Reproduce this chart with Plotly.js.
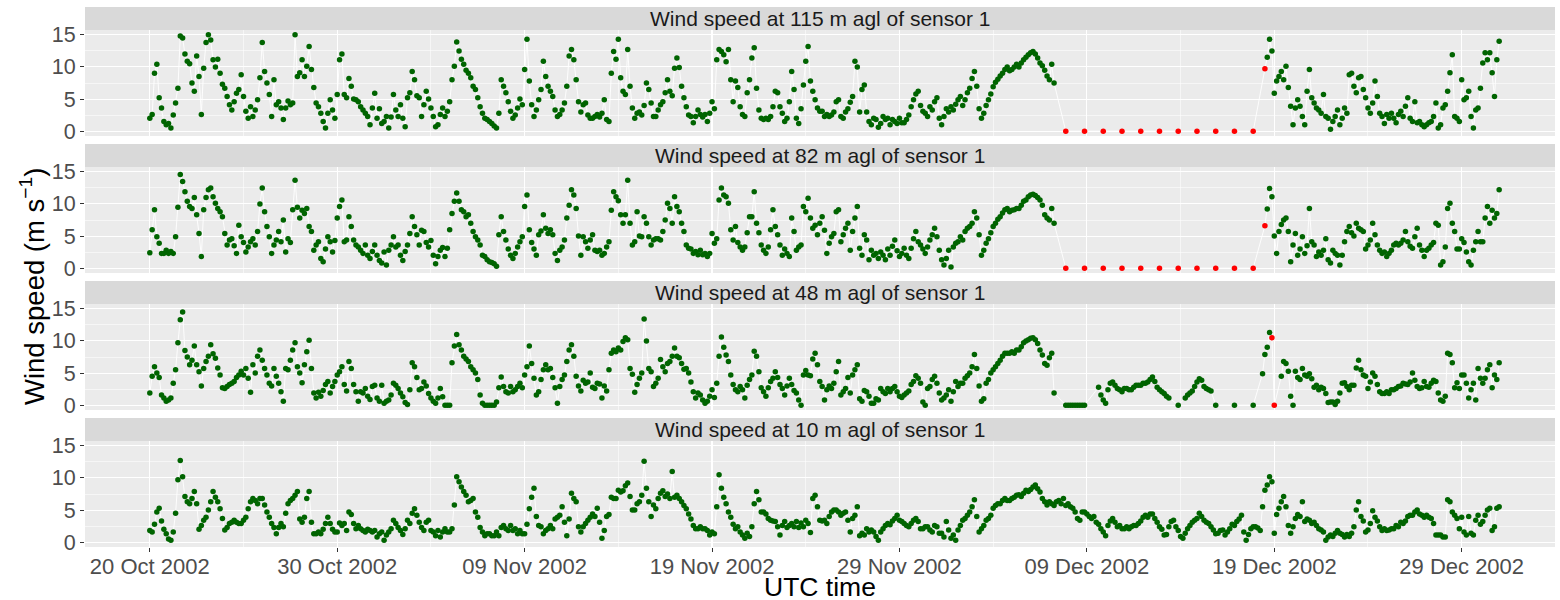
<!DOCTYPE html>
<html><head><meta charset="utf-8">
<script src="https://cdn.plot.ly/plotly-3.0.1.min.js"></script>
<style>html,body{margin:0;padding:0;background:#fff;}#chart{width:1560px;height:600px;}</style>
</head><body><div id="chart"></div>
<script>
// ---- data: 3-hourly samples starting 2002-10-20 00:00 UTC (one row = one day) ----
const START_UTC = [2002, 9, 20];
const STEP_HOURS = 3;
const panelTitles = ["Wind speed at 115 m agl of sensor 1","Wind speed at 82 m agl of sensor 1","Wind speed at 48 m agl of sensor 1","Wind speed at 10 m agl of sensor 1"];
const xTickFormat = "%d %b %Y";
const yTickVals = [0, 5, 10, 15];

const ws115 = [
2.0,2.6,9.0,10.4,5.2,3.6,1.5,1.0,
1.2,0.5,2.5,4.4,6.7,14.8,14.5,12.0,
10.9,10.5,7.5,6.2,11.7,8.5,2.6,9.8,
13.8,15.0,14.2,11.1,10.0,11.2,9.0,7.3,
6.7,5.4,4.1,3.3,4.6,5.9,6.5,8.8,
5.4,3.1,2.0,3.8,2.3,3.3,4.9,8.3,
13.8,9.3,7.5,5.7,2.3,8.0,4.1,4.6,
3.6,1.8,3.6,4.7,4.1,4.4,15.0,8.5,
9.1,11.1,8.5,10.1,13.2,9.6,6.8,4.4,
3.8,2.8,1.5,0.5,2.8,4.9,3.3,2.0,
5.7,11.1,12.0,5.7,5.2,8.2,7.0,5.0,
4.9,4.6,3.8,3.3,2.8,2.3,1.0,3.6,
5.9,2.0,3.5,1.2,1.5,2.3,0.5,2.2,
5.7,3.3,2.3,4.1,2.0,0.7,5.2,6.0,
9.3,8.0,5.5,5.2,2.3,4.1,6.2,5.0,
3.6,2.3,0.7,1.0,2.6,3.6,2.3,3.1,
4.6,8.0,10.1,13.9,12.5,11.2,10.4,9.5,
9.0,8.3,7.0,6.5,5.2,3.8,2.8,2.0,
1.8,1.5,1.2,0.8,0.5,2.8,8.0,7.0,
6.0,4.6,3.1,2.0,2.5,3.6,5.0,4.1,
9.6,14.3,7.8,4.1,2.3,3.3,4.9,6.5,
10.9,8.5,7.0,6.2,5.4,3.3,2.3,2.6,
3.3,4.4,7.0,11.7,12.7,11.1,8.0,4.6,
3.0,4.1,4.4,2.5,2.0,2.0,2.3,2.6,
2.2,2.8,4.9,1.8,1.5,9.0,12.4,11.2,
14.3,8.3,6.2,5.7,12.7,7.0,3.6,2.0,
2.8,3.0,2.5,4.0,7.5,6.5,4.4,2.3,
2.3,3.3,4.1,4.6,6.0,8.0,6.2,5.5,
9.8,11.4,9.9,7.0,5.2,3.8,2.5,2.3,
1.3,2.3,3.3,2.6,2.2,2.6,1.5,2.8,
4.6,3.5,11.1,12.7,12.4,11.9,10.8,12.7,
8.0,4.6,7.8,6.8,3.8,2.6,2.3,6.0,
8.0,11.4,13.0,6.7,3.3,2.0,1.8,2.0,
1.8,2.3,3.8,6.2,6.0,3.8,2.8,1.5,
2.0,4.6,9.3,6.5,2.0,1.2,3.5,7.2,
10.9,13.2,7.8,6.2,4.9,3.6,3.1,3.1,
2.3,2.6,2.3,2.5,3.0,4.6,4.9,2.3,
2.0,3.0,3.5,4.5,5.4,10.9,10.0,3.0,
6.5,7.2,3.0,1.5,1.0,2.0,1.8,0.6,
1.2,2.3,1.8,2.0,1.0,1.8,1.5,1.2,
2.0,1.3,1.3,1.8,2.5,3.8,4.9,5.8,
6.2,4.0,3.1,2.8,2.3,3.8,3.3,4.6,
5.2,2.0,1.0,2.3,3.5,3.0,3.8,3.3,
4.2,4.9,5.4,4.0,4.9,6.0,6.7,8.2,
9.3,7.0,3.5,2.0,2.8,4.0,4.9,5.8,
6.9,7.6,8.1,8.6,9.0,9.6,10.0,9.4,
9.6,10.0,10.4,10.0,10.6,11.1,11.5,11.9,
12.2,12.4,12.0,11.4,10.6,10.2,9.5,8.6,
8.0,10.4,7.5,null,null,null,null,null,
null,null,null,null,null,null,null,null,
null,null,null,null,null,null,null,null,
null,null,null,null,null,null,null,null,
null,null,null,null,null,null,null,null,
null,null,null,null,null,null,null,null,
null,null,null,null,null,null,null,null,
null,null,null,null,null,null,null,null,
null,null,null,null,null,null,null,null,
null,null,null,null,null,null,null,null,
null,null,null,null,null,null,null,null,
null,null,null,null,null,11.5,14.3,12.5,
5.9,7.8,8.5,9.3,8.0,10.1,6.8,3.9,
1.0,3.6,4.9,3.9,2.3,1.0,6.2,9.6,
5.2,4.4,3.6,3.3,2.8,5.7,2.3,2.0,
0.3,1.5,2.3,3.3,1.0,2.0,3.6,2.8,
8.8,9.0,7.0,6.0,8.3,8.5,6.5,5.2,
3.6,2.8,4.4,7.8,5.4,2.8,2.3,1.2,
2.6,2.0,2.8,2.0,1.3,2.6,3.1,2.3,
3.9,5.2,2.0,1.5,4.6,1.3,1.5,1.0,
0.7,1.0,1.3,1.5,2.3,4.4,0.5,1.0,
3.6,4.1,6.2,9.1,11.9,2.3,2.0,1.5,
8.0,4.9,5.2,6.2,2.3,0.5,3.3,3.6,
6.7,10.6,12.2,11.1,12.2,9.1,5.4,11.1,
14.0];

const ws82 = [
2.4,6.0,9.1,4.9,3.9,2.3,2.3,2.8,
2.3,2.6,2.3,4.9,9.5,14.6,13.5,11.9,
10.4,9.6,9.3,11.0,8.3,5.4,1.8,9.1,
11.0,12.2,12.5,11.1,10.1,9.3,8.8,8.0,
5.4,3.6,4.4,4.6,3.5,2.3,6.7,4.9,
4.0,2.5,3.3,4.1,4.6,3.6,5.7,10.0,
12.5,8.8,6.5,4.9,2.3,3.6,4.4,5.7,
4.1,7.5,2.5,4.6,4.0,9.1,13.7,9.5,
7.8,9.0,8.5,9.3,6.5,5.7,2.8,3.6,
4.1,1.5,1.0,3.0,4.9,4.1,2.5,4.3,
7.8,9.6,10.6,4.1,4.4,8.0,6.5,4.4,
3.6,3.3,2.8,2.3,3.6,2.0,1.5,2.6,
3.6,2.0,1.2,0.8,2.5,0.5,2.8,3.6,
4.9,3.3,3.6,2.0,1.2,2.6,3.6,5.4,
8.0,6.5,5.2,3.6,5.9,5.7,4.0,3.3,
4.3,2.0,0.7,1.8,2.8,3.2,1.8,3.1,
6.0,8.5,10.4,11.7,10.4,9.1,8.8,8.0,
8.3,7.0,5.7,4.9,4.4,3.6,2.0,1.8,
1.3,1.0,0.9,0.7,0.3,5.2,8.0,5.7,
4.4,3.0,2.0,1.5,2.3,3.3,4.1,4.9,
9.6,11.4,6.0,4.0,3.0,2.0,5.2,5.8,
8.3,6.2,5.4,6.0,5.2,2.3,1.2,2.8,
3.3,4.4,7.8,9.8,12.2,11.4,9.3,5.0,
2.0,4.9,4.1,3.1,4.4,5.2,2.8,2.6,
2.8,2.0,2.3,3.3,4.1,9.0,11.9,11.1,
10.5,8.3,7.0,8.3,13.7,7.0,3.6,4.1,
8.8,5.0,4.9,8.0,7.0,4.9,3.6,4.4,
4.6,4.6,4.4,5.7,7.5,10.1,9.3,7.0,
11.1,9.6,8.8,7.0,5.7,3.6,3.1,3.0,
2.3,2.6,2.1,2.8,2.1,2.3,1.8,2.3,
5.4,3.9,4.6,10.6,12.5,11.4,11.1,10.1,
6.0,4.4,6.5,4.0,3.3,2.8,3.3,5.5,
8.0,8.0,11.9,7.0,5.5,3.6,2.8,2.3,
3.3,6.0,9.1,6.5,5.2,3.6,2.0,3.0,
2.3,1.8,7.8,5.7,2.8,3.3,3.6,9.6,
8.8,10.9,7.8,6.2,6.7,5.2,7.0,8.0,
5.9,2.3,3.9,4.9,5.4,8.8,9.1,4.1,
5.2,6.2,7.0,2.8,5.7,7.8,9.6,3.1,
2.0,5.2,4.4,1.3,2.8,2.0,2.3,1.5,
2.5,2.0,1.3,3.0,2.0,3.4,4.4,2.7,
1.8,2.3,3.1,2.0,1.5,3.1,4.6,5.7,
4.1,3.6,3.0,2.3,3.3,4.4,5.2,6.2,
4.9,2.8,1.3,0.5,1.5,2.8,0.2,3.3,
3.9,4.1,4.9,4.4,5.7,6.2,6.5,7.0,
8.8,7.8,5.2,2.0,2.8,3.9,4.6,5.5,
6.5,7.0,7.6,8.0,8.6,9.1,9.3,8.8,
9.0,9.1,9.3,9.3,9.8,10.4,10.6,11.1,
11.4,11.5,11.3,11.0,10.6,9.8,8.3,7.8,
7.5,9.3,7.0,null,null,null,null,null,
null,null,null,null,null,null,null,null,
null,null,null,null,null,null,null,null,
null,null,null,null,null,null,null,null,
null,null,null,null,null,null,null,null,
null,null,null,null,null,null,null,null,
null,null,null,null,null,null,null,null,
null,null,null,null,null,null,null,null,
null,null,null,null,null,null,null,null,
null,null,null,null,null,null,null,null,
null,null,null,null,null,null,null,null,
null,null,null,null,null,9.2,12.4,11.1,
5.0,2.3,5.7,6.8,7.5,7.8,5.7,1.0,
3.6,5.4,2.0,3.0,4.9,2.3,3.5,9.3,
4.1,3.6,1.8,2.5,2.0,2.8,4.6,1.3,
0.8,2.8,2.3,2.0,0.5,2.0,4.1,5.7,
6.5,5.5,5.0,7.0,6.2,6.0,5.7,3.0,
3.6,4.4,7.0,5.2,3.6,2.8,2.3,2.5,
1.8,2.3,2.8,3.6,3.9,3.6,3.9,4.4,
5.7,4.1,3.4,3.1,4.9,6.2,3.6,2.8,
1.8,2.8,3.1,3.6,4.0,7.0,6.7,0.5,
1.0,3.3,9.3,10.1,7.0,5.7,3.0,3.0,
4.6,4.0,2.5,1.0,0.5,2.8,4.1,5.7,
4.1,4.1,7.8,9.6,7.0,9.0,7.8,8.5,
12.2];

const ws48 = [
1.9,4.5,6.0,5.0,4.3,1.6,1.1,0.6,
0.8,1.1,3.4,5.5,9.7,13.3,14.5,8.5,
7.5,6.3,7.0,9.2,6.3,5.2,3.0,5.7,
6.8,7.6,9.4,8.0,7.3,5.8,4.7,2.7,
2.6,2.9,3.2,3.4,3.7,4.3,4.7,5.3,
4.7,5.7,4.2,2.0,6.3,5.0,7.6,8.6,
7.0,5.7,4.7,3.4,3.0,5.7,4.5,3.4,
2.1,0.6,5.7,5.5,7.0,8.6,9.7,6.0,
5.0,3.5,6.3,8.3,10.1,5.7,1.9,1.1,
2.0,1.4,2.3,3.2,3.7,1.9,2.9,3.7,
4.7,5.2,6.0,3.2,2.2,6.8,5.7,3.2,
2.1,0.6,2.1,1.9,2.6,1.4,0.9,2.9,
3.1,1.1,0.6,3.1,0.3,0.6,0.8,1.6,
3.4,3.1,2.6,1.9,1.3,0.4,0.1,2.4,
6.6,6.0,4.3,2.4,2.6,3.6,3.0,1.8,
1.1,0.6,0.3,1.1,2.6,1.3,0.0,0.0,
0.0,6.6,9.2,11.0,9.4,8.6,7.6,7.2,
6.8,6.0,5.5,5.0,4.0,1.6,0.3,0.0,
0.0,0.0,0.0,0.0,0.5,2.7,4.4,2.9,
2.1,1.9,2.9,2.1,2.4,2.9,3.4,2.7,
4.7,6.0,9.2,6.5,4.2,1.6,2.1,4.0,
5.5,6.3,5.5,5.7,4.3,2.7,0.3,2.9,
4.0,4.7,6.8,8.6,9.4,7.6,4.5,3.0,
2.2,3.9,3.4,3.6,5.0,2.8,2.6,3.4,
3.3,1.1,3.0,2.2,5.5,8.1,8.6,8.3,
8.9,8.6,9.9,10.5,10.2,5.7,4.8,2.0,
3.2,4.2,5.0,13.4,10.0,5.7,5.2,2.9,
3.4,4.2,7.1,6.0,5.2,6.5,6.8,7.6,
8.9,7.6,7.4,6.5,5.6,5.7,5.0,3.6,
2.1,1.1,1.9,1.6,0.8,0.3,0.6,1.4,
2.4,1.2,3.4,7.6,10.6,9.0,7.8,6.8,
4.7,3.2,2.4,2.1,2.9,2.4,1.1,3.1,
4.0,4.7,8.4,7.6,5.2,2.7,2.1,1.4,
2.7,3.7,4.2,5.2,4.3,3.2,2.6,1.6,
3.0,4.2,3.2,2.3,1.9,0.8,0.0,4.7,
5.4,4.7,4.6,7.2,8.1,6.3,3.7,2.9,
0.8,2.4,3.0,2.6,3.4,5.2,6.8,1.6,
2.1,2.6,4.3,1.9,4.7,5.5,6.3,1.0,
0.6,2.3,2.1,1.4,0.3,0.3,1.0,0.8,
2.6,2.1,1.8,2.6,2.1,2.6,2.9,2.1,
1.4,1.2,1.6,1.9,2.2,3.2,3.7,4.6,
4.2,3.4,0.5,0.0,2.6,2.9,4.0,4.5,
3.4,1.9,0.8,1.1,1.6,2.4,0.6,2.1,
3.7,2.9,3.4,3.4,4.2,4.6,5.0,6.0,
7.9,5.7,3.0,0.6,1.0,3.4,4.0,5.0,
5.5,6.0,6.5,7.0,7.6,8.1,8.1,8.1,
8.3,8.1,8.6,8.6,9.1,9.7,10.0,10.2,
10.4,10.5,10.2,9.6,8.6,7.8,6.5,6.2,
7.4,8.1,1.9,null,null,null,null,0.0,
0.0,0.0,0.0,0.0,0.0,0.0,0.0,0.0,
null,null,null,null,null,2.8,1.6,0.8,
0.3,2.4,3.4,3.6,3.1,2.6,2.4,2.1,
2.6,2.6,2.4,2.4,2.8,3.1,3.1,3.1,
3.4,3.4,3.6,4.0,4.4,3.7,2.8,2.4,
2.1,1.8,1.4,1.1,null,null,null,0.0,
null,null,1.1,1.6,1.9,2.2,2.9,3.6,
4.1,3.9,2.9,2.6,2.4,2.2,null,0.0,
null,null,null,null,null,null,null,0.0,
null,null,null,null,null,null,null,0.0,
null,null,null,4.9,7.9,9.0,11.3,null,
null,null,null,4.5,6.8,6.5,5.3,1.4,
0.0,5.3,4.3,4.0,5.7,4.7,4.5,4.9,
4.1,2.8,3.1,2.4,2.8,2.6,1.8,0.4,
0.5,0.5,0.1,0.6,1.9,3.4,3.5,2.9,
2.4,3.1,3.1,5.8,7.0,5.5,4.7,4.5,
2.6,3.6,5.0,4.5,3.2,2.1,1.8,1.8,
2.1,1.8,2.4,2.4,2.6,2.9,3.0,3.4,
3.3,3.2,3.6,5.0,3.9,2.9,2.6,2.7,
3.7,2.9,2.8,3.4,3.9,3.7,1.9,0.8,
0.6,1.4,8.1,7.9,6.6,2.7,3.5,2.6,
4.7,4.7,3.4,1.1,2.4,3.4,0.8,5.7,
4.2,3.4,4.2,5.5,6.3,2.7,4.7,4.0,
6.6];

const ws10 = [
1.8,1.6,2.8,4.7,5.3,3.3,2.0,1.3,
0.5,0.3,1.6,4.5,9.7,12.7,10.2,7.1,
6.3,6.0,6.8,7.9,6.0,2.0,2.6,3.4,
3.9,5.0,6.3,7.9,7.0,6.3,5.2,3.7,
1.9,2.3,2.9,3.1,3.4,3.1,2.9,2.9,
3.4,3.9,5.2,6.3,6.8,6.5,6.0,6.8,
6.8,5.8,4.7,3.9,2.9,2.3,1.3,2.3,
2.9,2.4,4.5,6.0,6.5,6.8,7.3,7.9,
3.6,3.1,3.9,6.8,7.9,3.1,1.3,1.3,
1.6,1.3,2.0,2.9,3.9,2.9,2.0,1.6,
1.6,3.0,2.6,2.9,1.8,4.7,4.3,2.9,
2.1,2.6,2.1,1.8,1.6,2.0,1.8,1.6,
1.8,0.8,1.3,1.6,0.3,1.1,1.6,2.1,
3.4,2.9,2.3,1.8,1.2,2.1,3.4,2.9,
4.5,5.2,4.2,3.1,2.3,1.8,3.1,3.4,
1.8,1.6,1.0,1.8,0.8,1.6,2.1,1.6,
1.6,2.1,5.8,10.2,9.4,8.6,7.9,7.3,
6.3,6.5,6.8,4.7,3.9,2.3,1.6,1.0,
1.3,1.3,1.0,1.0,1.6,1.0,2.3,2.6,
2.1,1.8,2.6,1.8,2.1,1.3,1.8,1.3,
1.3,2.8,5.2,7.0,8.4,4.0,2.6,2.4,
1.3,1.8,2.1,2.6,2.1,3.6,3.9,4.2,
5.5,3.1,1.0,3.6,7.6,6.8,6.3,2.4,
1.6,2.4,2.9,3.4,3.9,4.4,4.0,5.3,
3.1,0.6,1.8,4.0,4.3,7.0,6.8,6.8,
8.1,7.8,8.0,8.8,9.2,7.1,5.0,5.0,
6.0,6.3,7.3,12.6,8.4,6.3,4.0,5.8,
5.2,6.8,7.6,8.0,7.1,7.5,6.8,11.0,
7.0,7.3,6.8,6.3,5.7,5.2,4.4,3.6,
2.6,2.1,2.1,2.4,2.1,2.1,1.8,1.1,
1.6,1.3,5.5,10.5,8.4,7.0,6.0,4.7,
3.9,2.8,2.1,2.4,1.6,1.1,0.6,1.4,
0.9,2.4,6.0,7.9,6.6,4.7,4.7,4.4,
3.7,3.4,3.3,3.2,2.4,1.1,2.6,3.2,
2.3,2.6,2.9,2.4,3.2,2.3,3.0,2.4,
3.4,2.9,1.5,6.8,7.3,5.5,3.4,3.3,
3.4,2.9,4.0,4.7,5.0,5.0,4.7,4.2,
4.5,4.7,3.4,1.6,3.7,4.2,5.5,1.0,
1.4,1.1,2.1,1.6,1.9,1.6,0.9,0.3,
1.6,2.1,2.6,2.9,2.7,3.3,3.7,4.2,
3.4,3.2,2.9,2.6,2.4,2.9,3.4,3.7,
3.2,2.1,2.1,2.4,2.4,1.9,1.6,2.6,
2.4,1.4,1.4,0.8,3.2,1.9,0.6,1.1,
0.3,1.9,2.6,3.4,3.7,4.2,4.7,5.5,
6.6,4.0,1.6,2.1,2.6,3.4,3.7,4.2,
5.3,5.7,6.0,6.0,6.5,6.8,6.5,6.5,
6.8,7.0,7.3,7.4,7.1,7.6,8.1,7.9,
8.2,8.6,8.9,8.3,7.8,6.8,6.3,5.8,
6.3,6.0,5.7,6.3,6.5,6.0,6.8,5.7,
6.0,5.5,5.3,4.7,3.7,3.4,4.7,4.7,
4.4,4.0,3.7,4.0,3.1,2.8,2.1,1.6,
1.0,2.6,3.3,3.7,3.1,2.4,2.6,2.1,
2.1,2.4,2.1,2.4,2.6,2.6,2.9,3.3,
3.9,4.2,3.9,4.4,4.4,3.7,3.1,2.4,
2.0,1.1,1.2,2.4,3.2,3.4,2.4,1.8,
0.9,0.6,1.4,2.1,2.6,3.1,3.4,3.7,
4.5,4.0,3.4,3.1,2.9,2.4,1.9,1.3,
1.4,1.8,1.9,1.1,1.6,2.1,2.8,2.6,
3.2,3.6,4.2,1.6,0.3,1.2,2.1,2.4,
2.4,2.2,1.8,5.5,8.1,8.9,10.2,9.4,
1.4,4.3,5.3,6.3,7.1,5.5,2.6,1.4,
2.4,3.7,4.3,4.0,6.3,3.2,3.6,3.4,
2.9,3.1,2.6,2.1,1.9,1.6,0.3,0.8,
1.1,0.9,1.4,1.8,1.4,1.2,0.8,1.2,
0.9,1.4,2.4,5.0,6.3,4.0,3.3,1.6,
1.9,2.9,4.9,3.9,3.3,2.4,1.8,2.1,
1.8,1.9,2.1,2.1,2.6,2.4,3.1,2.9,
3.3,4.0,4.2,4.2,4.7,5.0,4.4,4.2,
3.9,4.2,3.9,3.7,2.9,1.1,1.1,1.1,
0.8,0.8,6.6,6.3,4.7,4.2,3.7,2.1,
3.9,1.6,1.1,4.0,1.4,1.1,3.4,4.2,
2.8,3.2,4.2,5.0,5.3,1.8,2.4,5.3,
5.5];

// flagged (red) observations
const red115Times = ["2002-12-07 21:00","2002-12-08 21:00","2002-12-09 21:00","2002-12-10 21:00","2002-12-11 21:00","2002-12-12 21:00","2002-12-13 21:00","2002-12-14 21:00","2002-12-15 21:00","2002-12-16 21:00","2002-12-17 21:00","2002-12-18 12:00"];
const red115Values = [0,0,0,0,0,0,0,0,0,0,0,9.7];
const red82Times = ["2002-12-07 21:00","2002-12-08 21:00","2002-12-09 21:00","2002-12-10 21:00","2002-12-11 21:00","2002-12-12 21:00","2002-12-13 21:00","2002-12-14 21:00","2002-12-15 21:00","2002-12-16 21:00","2002-12-17 21:00","2002-12-18 12:00"];
const red82Values = [0,0,0,0,0,0,0,0,0,0,0,6.6];
const red48Times = ["2002-12-18 21:00","2002-12-19 00:00"];
const red48Values = [10.5, 0];
const red10Times = [];
const red10Values = [];

// ---- drawing ----
const t0 = Date.UTC(START_UTC[0], START_UTC[1], START_UTC[2]);
const stepMs = STEP_HOURS * 3600 * 1000;
const fmt = ms => new Date(ms).toISOString().slice(0, 16).replace('T', ' ');
const parse = s => Date.parse(s.replace(' ', 'T') + ':00Z');

const panels = [
  {title: panelTitles[0], green: ws115, rt: red115Times, rv: red115Values},
  {title: panelTitles[1], green: ws82,  rt: red82Times,  rv: red82Values},
  {title: panelTitles[2], green: ws48,  rt: red48Times,  rv: red48Values},
  {title: panelTitles[3], green: ws10,  rt: red10Times,  rv: red10Values}
];

const W = 1560, H = 600;
const xL = 85 / W, xR = 1555 / W;
const panelPx = [[30, 136], [167, 273], [304, 410], [441, 547]];
const stripPx = [[7, 30], [144, 167], [281, 304], [418, 441]];
const fy = px => 1 - px / H;
const FONT = 'Liberation Sans, Arial, Helvetica, sans-serif';

const traces = [];
const layout = {
  width: W, height: H,
  margin: {l: 0, r: 0, t: 0, b: 0},
  paper_bgcolor: '#FFFFFF', plot_bgcolor: '#EBEBEB',
  showlegend: false,
  font: {family: FONT},
  shapes: [], annotations: []
};

panels.forEach((p, i) => {
  const s = i === 0 ? '' : String(i + 1);
  const gx = [], gy = [], pts = [];
  p.green.forEach((v, k) => {
    if (v !== null) { const ms = t0 + k * stepMs; gx.push(fmt(ms)); gy.push(v); pts.push([ms, v]); }
  });
  p.rt.forEach((t, k) => pts.push([parse(t), p.rv[k]]));
  pts.sort((a, b) => a[0] - b[0]);
  traces.push({x: pts.map(q => fmt(q[0])), y: pts.map(q => q[1]), xaxis: 'x' + s, yaxis: 'y' + s,
    type: 'scatter', mode: 'lines', line: {color: '#FFFFFF', width: 0.9}, hoverinfo: 'skip'});
  traces.push({x: gx, y: gy, xaxis: 'x' + s, yaxis: 'y' + s, type: 'scatter', mode: 'markers',
    marker: {color: '#006400', size: 5.5}});
  if (p.rt.length) traces.push({x: p.rt, y: p.rv, xaxis: 'x' + s, yaxis: 'y' + s, type: 'scatter', mode: 'markers',
    marker: {color: '#FF0000', size: 5.5}});

  const last = i === panels.length - 1;
  layout['xaxis' + s] = {
    type: 'date', domain: [xL, xR], anchor: 'y' + s,
    range: ['2002-10-16 13:00', '2003-01-02 23:30'],
    tickmode: 'linear', tick0: '2002-10-20', dtick: 10 * 86400000,
    tickformat: xTickFormat,
    showticklabels: last, ticks: last ? 'outside' : '', ticklen: 4, tickwidth: 1, tickcolor: '#333333',
    ticklabelstandoff: -4,
    tickfont: {size: 22, color: '#4D4D4D', family: FONT},
    showgrid: true, gridcolor: '#FFFFFF', gridwidth: 1.1,
    minor: {tick0: '2002-10-20', dtick: 5 * 86400000, showgrid: true, gridcolor: '#FFFFFF', gridwidth: 0.55},
    zeroline: false, showline: false, fixedrange: true
  };
  layout['yaxis' + s] = {
    domain: [fy(panelPx[i][1]), fy(panelPx[i][0])], anchor: 'x' + s,
    range: [-0.75, 15.75], tickmode: 'array', tickvals: yTickVals, ticktext: yTickVals.map(String),
    ticks: 'outside', ticklen: 4, tickwidth: 1, tickcolor: '#333333',
    tickfont: {size: 21.5, color: '#4D4D4D', family: FONT},
    showgrid: true, gridcolor: '#FFFFFF', gridwidth: 1.1,
    minor: {tick0: 0, dtick: 2.5, showgrid: true, gridcolor: '#FFFFFF', gridwidth: 0.55},
    zeroline: false, showline: false, fixedrange: true
  };
  layout.shapes.push({type: 'rect', xref: 'paper', yref: 'paper', x0: xL, x1: xR,
    y0: fy(stripPx[i][1]), y1: fy(stripPx[i][0]), fillcolor: '#D9D9D9', line: {width: 0}, layer: 'below'});
  layout.annotations.push({xref: 'paper', yref: 'paper', x: (xL + xR) / 2, y: fy((stripPx[i][0] + stripPx[i][1]) / 2),
    xanchor: 'center', yanchor: 'middle', showarrow: false, text: p.title,
    font: {size: 21, color: '#1A1A1A', family: FONT}});
});

layout.annotations.push({xref: 'paper', yref: 'paper', x: (xL + xR) / 2, y: fy(587), xanchor: 'center', yanchor: 'middle',
  showarrow: false, text: 'UTC time', font: {size: 26.5, color: '#000000', family: FONT}});
layout.annotations.push({xref: 'paper', yref: 'paper', x: 33 / W, y: fy(287), xanchor: 'center', yanchor: 'middle',
  showarrow: false, textangle: -90, text: 'Wind speed (m s<sup>−1</sup>)', font: {size: 27.5, color: '#000000', family: FONT}});

Plotly.newPlot('chart', traces, layout, {staticPlot: true, displayModeBar: false});
</script>
</body></html>
